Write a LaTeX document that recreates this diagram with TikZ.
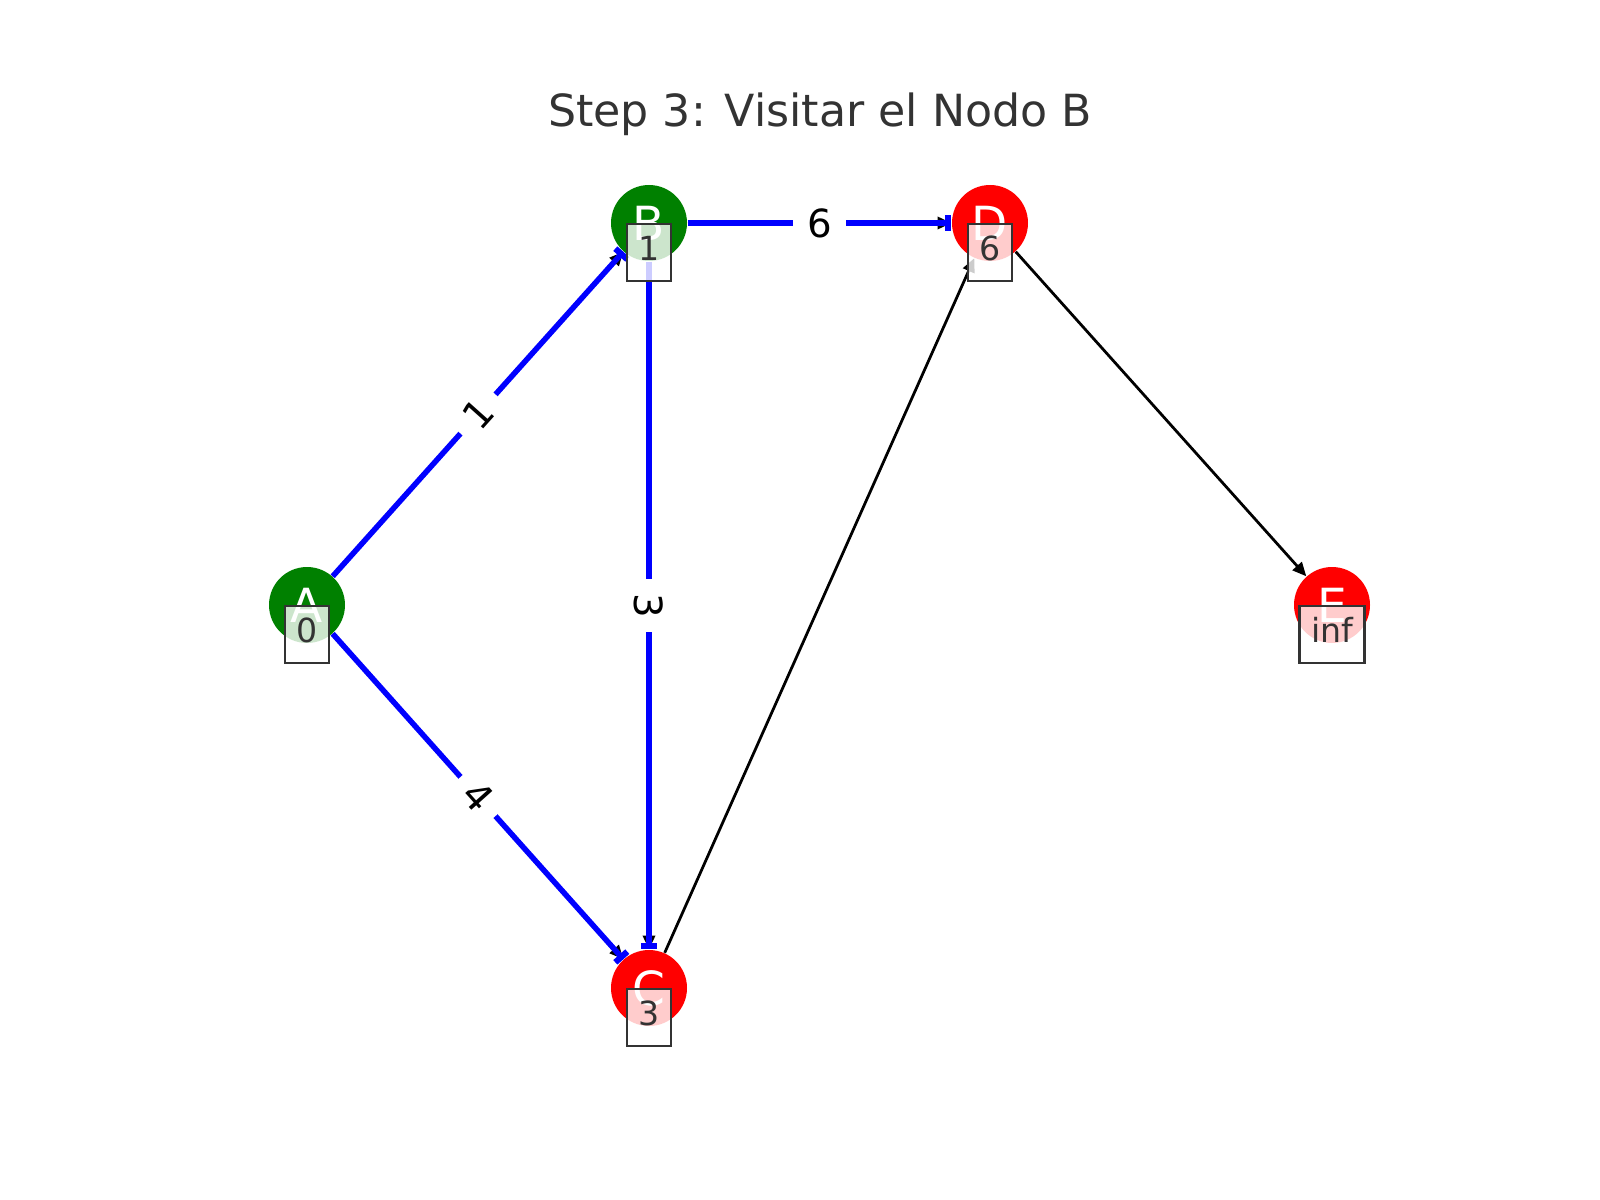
\documentclass[tikz,border=0pt]{standalone}
\usepackage{fontspec}
\setmainfont{DejaVu Sans}
\usetikzlibrary{arrows.meta}
\definecolor{mplgreen}{RGB}{0,128,0}
\definecolor{mplred}{RGB}{255,0,0}
\definecolor{mplblue}{RGB}{0,0,255}
\definecolor{txtgray}{RGB}{51,51,51}
\begin{document}
\begin{tikzpicture}[x=0.36135pt,y=-0.36135pt,
  vert/.style={circle,draw=none,minimum size=27.46pt,inner sep=0pt,text=white,font=\fontsize{17}{20}\selectfont},
  dbox/.style={rectangle,draw=txtgray,line width=1pt,fill=white,fill opacity=0.8,text opacity=1,text=txtgray,
    font=\fontsize{12}{14}\selectfont,minimum height=20.6pt,inner xsep=4.15pt,inner ysep=0pt,
    text height=8.75pt,text depth=3pt},
  blk/.style={draw=black,line width=1pt,-{Triangle[length=5pt,width=4.4pt]}},
  hl/.style={draw=mplblue,line width=2pt,-{Rectangle[length=2.2pt,width=5.8pt]}},
  elabel/.style={fill=white,text=black,font=\fontsize{14}{17}\selectfont,inner xsep=5pt,inner ysep=2.5pt}]
\useasboundingbox (0,0) rectangle (1600,1200);
\node[font=\fontsize{16}{19}\selectfont,text=txtgray,anchor=base] (title) at (820,127) {Step 3: Visitar el Nodo B};
% vertices
\node[vert,fill=mplgreen] (A) at (307,605) {A};
\node[vert,fill=mplgreen] (B) at (649,223) {B};
\node[vert,fill=mplred] (C) at (649,988) {C};
\node[vert,fill=mplred] (D) at (990,223) {D};
\node[vert,fill=mplred] (E) at (1332,605) {E};
% all edges (black)
\draw[blk] (A) -- (B);
\draw[blk] (A) -- (C);
\draw[blk] (B) -- (C);
\draw[blk] (B) -- (D);
\draw[blk] (C) -- (D);
\draw[blk] (D) -- (E);
% highlighted edges
\draw[hl] (A) -- (B) node[elabel,midway,rotate=48.2] {1};
\draw[hl] (A) -- (C) node[elabel,midway,rotate=-48.2] {4};
\draw[hl] (B) -- (C) node[elabel,midway,rotate=-90] {3};
\draw[hl] (B) -- (D) node[elabel,midway] {6};
% distance boxes
\node[dbox] (Ad) at ([yshift=-10.66pt]A.center) {0};
\node[dbox] (Bd) at ([yshift=-10.66pt]B.center) {1};
\node[dbox] (Cd) at ([yshift=-10.66pt]C.center) {3};
\node[dbox] (Dd) at ([yshift=-10.66pt]D.center) {6};
\node[dbox] (Ed) at ([yshift=-10.66pt]E.center) {inf};
\end{tikzpicture}
\end{document}
